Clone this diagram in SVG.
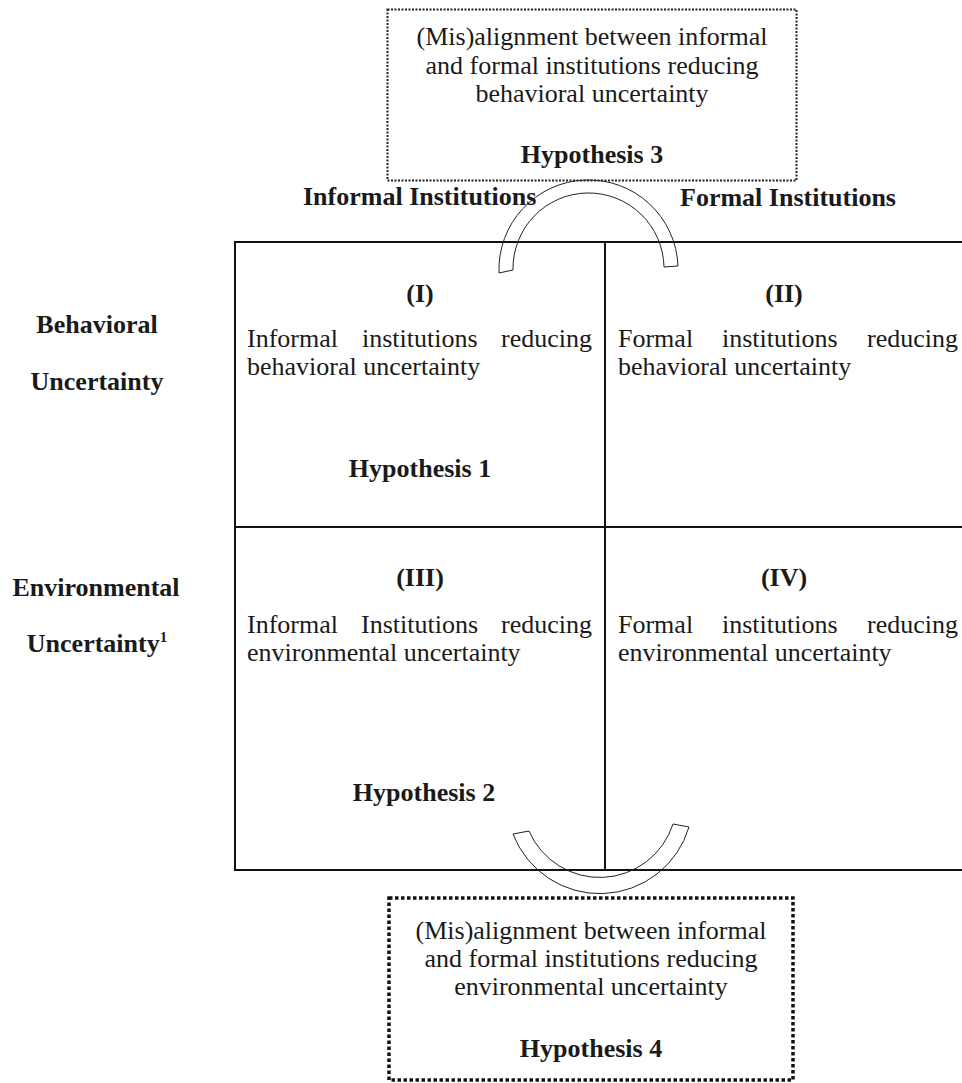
<svg xmlns="http://www.w3.org/2000/svg" width="962" height="1083" viewBox="0 0 962 1083">
<style>
text{font-family:"Liberation Serif","Times New Roman",serif;font-size:26px;fill:#1a1a1a}
.b{font-weight:bold}
.c{text-anchor:middle}
.e{text-anchor:end}
.grid{stroke:#111;stroke-width:2;fill:none}
.arc{stroke:#222;stroke-width:1;fill:none}
</style>
<rect width="962" height="1083" fill="#fff"/>
<g id="grid">
<line class="grid" x1="234" y1="242" x2="962" y2="242"/>
<line class="grid" x1="234" y1="870" x2="962" y2="870"/>
<line class="grid" x1="235" y1="241" x2="235" y2="871"/>
<line class="grid" x1="605" y1="242" x2="605" y2="870"/>
<line class="grid" x1="235" y1="527" x2="962" y2="527"/>
</g>
<g id="h3box">
<rect x="387.5" y="9.5" width="409" height="171" fill="none" stroke="#222" stroke-width="2" stroke-dasharray="2 1.5"/>
<text class="c" x="592" y="45">(Mis)alignment between informal</text>
<text class="c" x="592" y="73.5">and formal institutions reducing</text>
<text class="c" x="592" y="102">behavioral uncertainty</text>
<text class="c b" x="592" y="163">Hypothesis 3</text>
</g>
<g id="headers">
<text class="b" x="303" y="205">Informal Institutions</text>
<text class="b" x="680" y="206">Formal Institutions</text>
</g>
<g id="rowlabels">
<text class="b c" x="97" y="333">Behavioral</text>
<text class="b c" x="97" y="390">Uncertainty</text>
<text class="b c" x="96" y="596">Environmental</text>
<text class="b c" x="97" y="652">Uncertainty<tspan font-size="15" dy="-10">1</tspan></text>
</g>
<g id="cell1">
<text class="b c" x="420" y="302">(I)</text>
<text x="247" y="347">Informal</text>
<text x="362" y="347">institutions</text>
<text class="e" x="592" y="347">reducing</text>
<text x="247" y="375">behavioral uncertainty</text>
<text class="b c" x="420" y="477">Hypothesis 1</text>
</g>
<g id="cell2">
<text class="b c" x="784" y="302">(II)</text>
<text x="618" y="347">Formal</text>
<text x="722" y="347">institutions</text>
<text class="e" x="958" y="347">reducing</text>
<text x="618" y="375">behavioral uncertainty</text>
</g>
<g id="cell3">
<text class="b c" x="420" y="586">(III)</text>
<text x="247" y="633">Informal</text>
<text x="361" y="633">Institutions</text>
<text class="e" x="592" y="633">reducing</text>
<text x="247" y="661">environmental uncertainty</text>
<text class="b c" x="424" y="801">Hypothesis 2</text>
</g>
<g id="cell4">
<text class="b c" x="784" y="586">(IV)</text>
<text x="618" y="633">Formal</text>
<text x="722" y="633">institutions</text>
<text class="e" x="958" y="633">reducing</text>
<text x="618" y="661">environmental uncertainty</text>
</g>
<g id="h4box">
<rect x="389" y="898" width="404" height="182" fill="none" stroke="#111" stroke-width="3.5" stroke-dasharray="3.5 2.5"/>
<text class="c" x="591" y="939">(Mis)alignment between informal</text>
<text class="c" x="591" y="967">and formal institutions reducing</text>
<text class="c" x="591" y="995">environmental uncertainty</text>
<text class="c b" x="591" y="1057">Hypothesis 4</text>
</g>
<g id="connectors">
<path class="arc" d="M499 273 A80 80 0 0 1 678 266 L664 267 A70 70 0 0 0 513 270 Z"/>
<path class="arc" d="M513 834 A93 93 0 0 0 689 827 L673 824 A77 77 0 0 1 529 831 Z"/>
</g>
</svg>
